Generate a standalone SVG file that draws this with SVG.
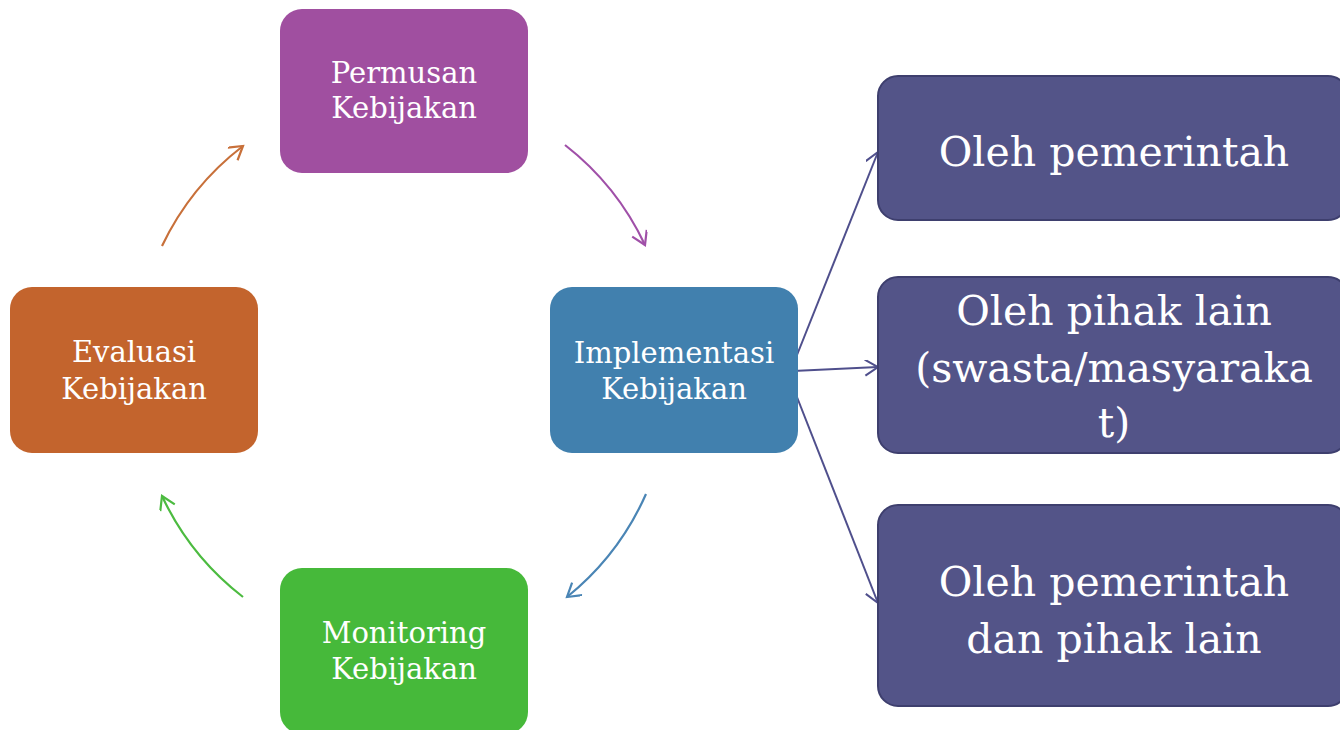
<svg xmlns="http://www.w3.org/2000/svg" width="1340" height="730" viewBox="0 0 1340 730">
<style>
.lbl{font-family:"DejaVu Serif","Liberation Serif",serif;fill:#ffffff;text-anchor:middle}
.sm{font-size:29px}
.lg{font-size:41px}
.arc{fill:none;stroke-width:2.2}
.rbox{fill:#535488;stroke:#3e3f6e;stroke-width:2}
.rc{fill:none;stroke:#4f4f8c;stroke-width:2}
</style>
<defs>
<marker id="mP" markerUnits="userSpaceOnUse" markerWidth="20" markerHeight="20" refX="15" refY="8" orient="auto"><path d="M2,0 L15,8 L2,16" fill="none" stroke="#a050a8" stroke-width="2.2"/></marker>
<marker id="mB" markerUnits="userSpaceOnUse" markerWidth="20" markerHeight="20" refX="15" refY="8" orient="auto"><path d="M2,0 L15,8 L2,16" fill="none" stroke="#4a85b5" stroke-width="2.2"/></marker>
<marker id="mG" markerUnits="userSpaceOnUse" markerWidth="20" markerHeight="20" refX="15" refY="8" orient="auto"><path d="M2,0 L15,8 L2,16" fill="none" stroke="#4cbb40" stroke-width="2.2"/></marker>
<marker id="mO" markerUnits="userSpaceOnUse" markerWidth="20" markerHeight="20" refX="15" refY="8" orient="auto"><path d="M2,0 L15,8 L2,16" fill="none" stroke="#c8703a" stroke-width="2.2"/></marker>
<marker id="mN" markerUnits="userSpaceOnUse" markerWidth="20" markerHeight="20" refX="15" refY="8" orient="auto"><path d="M2,0 L15,8 L2,16" fill="none" stroke="#4f4f8c" stroke-width="2"/></marker>
</defs>
<rect width="1340" height="730" fill="#ffffff"/>
<g id="connectors">
<path class="arc" stroke="#a050a8" d="M565,145 A275,275 0 0 1 645,245" marker-end="url(#mP)"/>
<path class="arc" stroke="#4a85b5" d="M646,494 A275,275 0 0 1 567,597" marker-end="url(#mB)"/>
<path class="arc" stroke="#4cbb40" d="M243,597 A275,275 0 0 1 162,496" marker-end="url(#mG)"/>
<path class="arc" stroke="#c8703a" d="M162,246 A275,275 0 0 1 243,146" marker-end="url(#mO)"/>
<path class="rc" d="M793,365 L878,152" marker-end="url(#mN)"/>
<path class="rc" d="M793,371 L878,367" marker-end="url(#mN)"/>
<path class="rc" d="M793,387 L878,603" marker-end="url(#mN)"/>
</g>
<g id="permusan">
<rect x="280" y="9" width="248" height="164" rx="22" fill="#a04fa0"/>
<text class="lbl sm" x="404" y="83">Permusan</text>
<text class="lbl sm" x="404" y="118">Kebijakan</text>
</g>
<g id="implementasi">
<rect x="550" y="287" width="248" height="166" rx="22" fill="#4180ae"/>
<text class="lbl sm" x="674" y="363">Implementasi</text>
<text class="lbl sm" x="674" y="399">Kebijakan</text>
</g>
<g id="monitoring">
<rect x="280" y="568" width="248" height="166" rx="22" fill="#46b93a"/>
<text class="lbl sm" x="404" y="643">Monitoring</text>
<text class="lbl sm" x="404" y="679">Kebijakan</text>
</g>
<g id="evaluasi">
<rect x="10" y="287" width="248" height="166" rx="22" fill="#c3642d"/>
<text class="lbl sm" x="134" y="362">Evaluasi</text>
<text class="lbl sm" x="134" y="399">Kebijakan</text>
</g>
<g id="oleh-pemerintah">
<rect class="rbox" x="878" y="76" width="470" height="144" rx="20"/>
<text class="lbl lg" x="1114" y="166">Oleh pemerintah</text>
</g>
<g id="oleh-pihak-lain">
<rect class="rbox" x="878" y="277" width="470" height="176" rx="20"/>
<text class="lbl lg" x="1114" y="325">Oleh pihak lain</text>
<text class="lbl lg" x="1114" y="382">(swasta/masyaraka</text>
<text class="lbl lg" x="1114" y="437">t)</text>
</g>
<g id="oleh-keduanya">
<rect class="rbox" x="878" y="505" width="470" height="201" rx="20"/>
<text class="lbl lg" x="1114" y="596">Oleh pemerintah</text>
<text class="lbl lg" x="1114" y="653">dan pihak lain</text>
</g>
</svg>
